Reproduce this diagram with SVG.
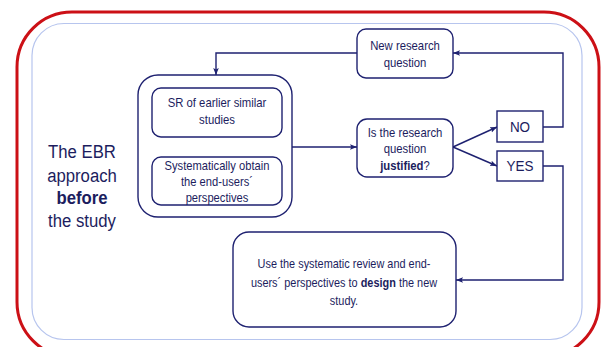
<svg xmlns="http://www.w3.org/2000/svg" width="604" height="347" viewBox="0 0 604 347">
<style>
.box{fill:#fff;stroke:#1e2170;stroke-width:1.4}
.t{font-family:"Liberation Sans",Arial,sans-serif;font-size:13px;fill:#1c1d5e;text-anchor:middle}
.big{font-size:19px}
.yn{font-size:15px}
.b{font-weight:bold}
.c{fill:none;stroke:#1e2170;stroke-width:1.4}
</style>
<defs>
<marker id="ah" viewBox="0 0 10 10" refX="10" refY="5" markerWidth="7" markerHeight="7" orient="auto-start-reverse" markerUnits="userSpaceOnUse">
<path d="M0,1 L10,5 L0,9 L2,5 Z" fill="#1e2170"/>
</marker>
</defs>
<rect x="0" y="0" width="604" height="347" fill="#fff"/>
<rect x="17" y="12" width="582" height="345" rx="55" ry="55" fill="none" stroke="#cc1016" stroke-width="3"/>
<rect x="32" y="23.5" width="550" height="316" rx="32" ry="32" fill="none" stroke="#b7c5ee" stroke-width="1.2"/>

<g id="title" transform="matrix(0.88 0 0 1 82 0)">
<text class="t big" x="0" y="158">The EBR</text>
<text class="t big" x="0" y="182">approach</text>
<text class="t big b" x="0" y="204">before</text>
<text class="t big" x="0" y="227">the study</text>
</g>

<g id="connectors">
<polyline class="c" points="357,53 216,53 216,75" marker-end="url(#ah)"/>
<line class="c" x1="216" y1="138" x2="216" y2="156" marker-start="url(#ah)" marker-end="url(#ah)"/>
<line class="c" x1="292" y1="147" x2="357" y2="147" marker-end="url(#ah)"/>
<line class="c" x1="453" y1="147" x2="497" y2="127" marker-end="url(#ah)"/>
<line class="c" x1="453" y1="147" x2="497" y2="166" marker-end="url(#ah)"/>
<polyline class="c" points="543,127 563,127 563,53 453,53" marker-end="url(#ah)"/>
<polyline class="c" points="543,166 563,166 563,280 456,280" marker-end="url(#ah)"/>
</g>

<g id="new-question">
<rect class="box" x="357" y="29" width="96" height="49" rx="9"/>
<g transform="matrix(0.87 0 0 1 405 0)">
<text class="t" x="0" y="50">New research</text>
<text class="t" x="0" y="67">question</text>
</g>
</g>

<g id="group">
<rect class="box" x="138" y="75" width="154" height="142" rx="20"/>
</g>

<g id="sr">
<rect class="box" x="152" y="88" width="130" height="49" rx="9"/>
<g transform="matrix(0.87 0 0 1 217 0)">
<text class="t" x="0" y="107">SR of earlier similar</text>
<text class="t" x="0" y="124">studies</text>
</g>
</g>

<g id="endusers">
<rect class="box" x="152" y="157" width="130" height="48" rx="9"/>
<g transform="matrix(0.86 0 0 1 217 0)">
<text class="t" x="0" y="170">Systematically obtain</text>
<text class="t" x="0" y="186">the end-users´</text>
<text class="t" x="0" y="202">perspectives</text>
</g>
</g>

<g id="justified">
<rect class="box" x="357" y="119" width="96" height="58" rx="10"/>
<g transform="matrix(0.87 0 0 1 405 0)">
<text class="t" x="0" y="137">Is the research</text>
<text class="t" x="0" y="153">question</text>
<text class="t" x="0" y="170"><tspan class="b">justified</tspan>?</text>
</g>
</g>

<g id="no">
<rect class="box" x="497" y="111" width="46" height="31"/>
<text class="t yn" x="520" y="132" transform="matrix(0.9 0 0 1 52 0)">NO</text>
</g>

<g id="yes">
<rect class="box" x="497" y="151" width="46" height="30"/>
<text class="t yn" x="520" y="171" transform="matrix(0.9 0 0 1 52 0)">YES</text>
</g>

<g id="design">
<rect class="box" x="233" y="232" width="223" height="95" rx="16"/>
<g transform="matrix(0.84 0 0 1 344 0)">
<text class="t" x="0" y="268">Use the systematic review and end-</text>
<text class="t" x="0" y="287">users´ perspectives to <tspan class="b">design</tspan> the new</text>
<text class="t" x="0" y="305">study.</text>
</g>
</g>
</svg>
